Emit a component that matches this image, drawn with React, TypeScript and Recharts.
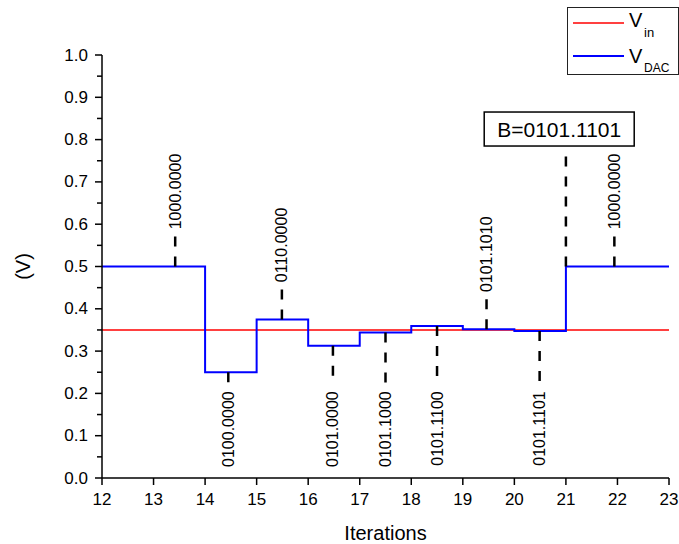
import React from 'react';
import { LineChart, Line, XAxis, YAxis, ReferenceLine, ReferenceDot } from 'recharts';

// step levels of the DAC output per iteration (stepAfter)
const iterations = [12, 14, 15, 16, 17, 18, 19, 20, 21, 23];
const vDac = [0.5, 0.25, 0.375, 0.3125, 0.34375, 0.359375, 0.3515625, 0.34765625, 0.5, 0.5];
const vIn = 0.35;

const xTicks = [12, 13, 14, 15, 16, 17, 18, 19, 20, 21, 22, 23];
const yTicks = [0, 0.05, 0.1, 0.15, 0.2, 0.25, 0.3, 0.35, 0.4, 0.45, 0.5, 0.55, 0.6, 0.65, 0.7, 0.75, 0.8, 0.85, 0.9, 0.95, 1.0];

// code words written next to each step
const codeX = [13.42, 14.45, 15.49, 16.48, 17.5, 18.5, 19.46, 20.49, 21.94];
const codeLevel = [0.5, 0.25, 0.375, 0.3125, 0.34375, 0.359375, 0.3515625, 0.34765625, 0.5];
const codeText = ['1000.0000', '0100.0000', '0110.0000', '0101.0000', '0101.1000', '0101.1100', '0101.1010', '0101.1101', '1000.0000'];
const codeAbove = [true, false, true, false, false, false, true, false, true];

const resultX = 21;
const resultLevel = 0.5;
const resultText = 'B=0101.1101';

const FONT = '"Liberation Sans", Arial, sans-serif';

const data = iterations.map((x, i) => ({ x, dac: vDac[i], vin: vIn }));

const YTick = (props: any) => {
  const { x, y, payload } = props;
  const v = payload.value as number;
  const major = Math.abs(v * 10 - Math.round(v * 10)) < 1e-6;
  const axisX = x + 14;
  return (
    <g>
      <line x1={axisX - (major ? 7 : 5)} x2={axisX} y1={y} y2={y} stroke="#000" strokeWidth={1.5} />
      {major && (
        <text x={x} y={y} textAnchor="end" dominantBaseline="central" fontSize={17} fontFamily={FONT} fill="#000">
          {v.toFixed(1)}
        </text>
      )}
    </g>
  );
};

const codeLabel = (text: string, above: boolean) => (p: any) => {
  const { cx, cy } = p;
  return (
    <text
      x={cx}
      y={cy}
      transform={`rotate(-90, ${cx}, ${cy})`}
      textAnchor={above ? 'start' : 'end'}
      dominantBaseline="central"
      fontSize={16}
      fontFamily={FONT}
      fill="#000"
    >
      {text}
    </text>
  );
};

const resultBox = (p: any) => {
  const { cx, cy } = p;
  return (
    <g>
      <rect x={cx - 75} y={cy - 17} width={150} height={34} fill="#fff" stroke="#000" strokeWidth={1.5} />
      <text x={cx} y={cy} textAnchor="middle" dominantBaseline="central" fontSize={21} fontFamily={FONT} fill="#000">
        {resultText}
      </text>
    </g>
  );
};

const Legend = () => (
  <svg width={112} height={68} style={{ position: 'absolute', left: 567, top: 7 }}>
    <rect x={0.5} y={0.5} width={111} height={67} fill="#fff" stroke="#222" strokeWidth={1} />
    <line x1={6} x2={57} y1={16} y2={16} stroke="#ff0000" strokeWidth={1.5} />
    <text x={62} y={20} fontSize={20} fontFamily={FONT} fill="#000">V</text>
    <text x={77} y={30} fontSize={13} fontFamily={FONT} fill="#000">in</text>
    <line x1={6} x2={57} y1={49} y2={49} stroke="#0000ff" strokeWidth={2} />
    <text x={62} y={56} fontSize={20} fontFamily={FONT} fill="#000">V</text>
    <text x={77} y={65} fontSize={12} fontFamily={FONT} fill="#000">DAC</text>
  </svg>
);

export default function App() {
  return (
    <div style={{ position: 'relative', width: 679, height: 544, background: '#fff' }}>
      <style>{'body{margin:0}'}</style>
      <LineChart width={679} height={544} data={data} margin={{ top: 55, right: 10, left: 0, bottom: 0 }}>
        <XAxis
          type="number"
          dataKey="x"
          domain={[12, 23]}
          ticks={xTicks}
          allowDataOverflow
          height={66}
          stroke="#000"
          strokeWidth={1.5}
          tickSize={7}
          tickMargin={8}
          tick={{ fontSize: 17, fontFamily: FONT, fill: '#000' }}
          label={{ value: 'Iterations', position: 'insideBottom', offset: 4, fontSize: 20, fontFamily: FONT, fill: '#000' }}
        />
        <YAxis
          type="number"
          domain={[0, 1]}
          ticks={yTicks}
          interval={0}
          width={102}
          stroke="#000"
          strokeWidth={1.5}
          tickLine={false}
          tickSize={7}
          tickMargin={7}
          tick={<YTick />}
          label={(p: any) => {
            const vb = p.viewBox || { y: 55, height: 423 };
            const cy = vb.y + vb.height / 2;
            return (
              <text x={23} y={cy} transform={`rotate(-90, 23, ${cy})`} textAnchor="middle" dominantBaseline="central" fontSize={20} fontFamily={FONT} fill="#000">
                (V)
              </text>
            );
          }}
        />
        <Line type="linear" dataKey="vin" stroke="#ff0000" strokeWidth={1.5} dot={false} isAnimationActive={false} />
        <Line type="stepAfter" dataKey="dac" stroke="#0000ff" strokeWidth={2} dot={false} isAnimationActive={false} />

        {codeX.map((x, i) => {
          const lvl = codeLevel[i];
          const end = codeAbove[i] ? lvl + 0.072 : 0.22;
          const textY = codeAbove[i] ? lvl + 0.088 : 0.205;
          return (
            <ReferenceLine
              key={`l${i}`}
              segment={[{ x, y: lvl }, { x, y: end }]}
              stroke="#000"
              strokeWidth={2.5}
              strokeDasharray="10 10"
              ifOverflow="visible"
            />
          );
        })}
        {codeX.map((x, i) => {
          const lvl = codeLevel[i];
          const textY = codeAbove[i] ? lvl + 0.088 : 0.205;
          return (
            <ReferenceDot key={`t${i}`} x={x} y={textY} r={0} ifOverflow="visible" shape={codeLabel(codeText[i], codeAbove[i])} />
          );
        })}
        <ReferenceLine
          segment={[{ x: resultX, y: resultLevel }, { x: resultX, y: 0.765 }]}
          stroke="#000"
          strokeWidth={2.5}
          strokeDasharray="10 10"
          ifOverflow="visible"
        />
        <ReferenceDot x={20.87} y={0.825} r={0} ifOverflow="visible" shape={resultBox} />
      </LineChart>
      <Legend />
    </div>
  );
}
